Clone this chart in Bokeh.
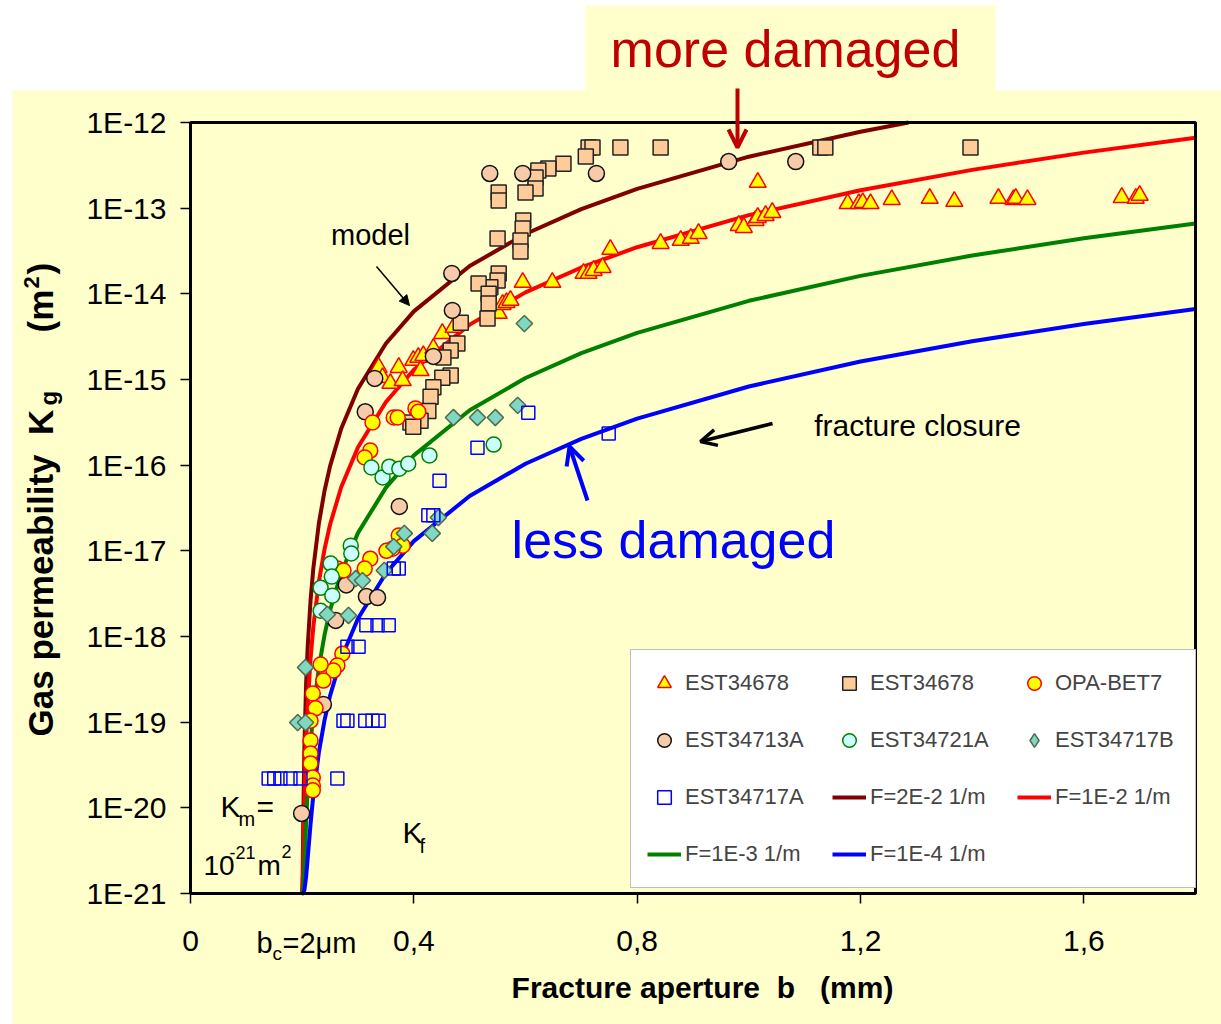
import math
from bokeh.plotting import figure
from bokeh.models import (Range1d, FixedTicker, CustomJSTickFormatter, Label, Arrow,
                          OpenHead, NormalHead, BoxAnnotation, Legend, LegendItem)
from bokeh.embed import file_html
from bokeh.resources import INLINE

# ---------------- data ----------------
x_ticks = [0, 0.4, 0.8, 1.2, 1.6]
y_ticks = [1e-21, 1e-20, 1e-19, 1e-18, 1e-17, 1e-16, 1e-15, 1e-14, 1e-13, 1e-12]

# model curves (aperture b in mm, permeability in m2)
b_model = [0.2, 0.201, 0.202, 0.204, 0.207, 0.21, 0.215, 0.22, 0.23, 0.24, 0.25, 0.27,
           0.3, 0.35, 0.4, 0.5, 0.6, 0.7, 0.8, 1.0, 1.2, 1.4, 1.6, 1.8]
b_f2e2 = [0.2, 0.201, 0.202, 0.204, 0.207, 0.21, 0.215, 0.22, 0.23, 0.24, 0.25, 0.27,
          0.3, 0.35, 0.4, 0.5, 0.6, 0.7, 0.8, 1.0, 1.2, 1.286]
k_f2e2 = [1.0e-21, 1.78e-21, 7.24e-21, 5.09e-20, 2.69e-19, 7.81e-19, 2.63e-18, 6.24e-18,
          2.11e-17, 4.99e-17, 9.75e-17, 2.68e-16, 7.8e-16, 2.63e-15, 6.24e-15, 2.11e-14,
          4.99e-14, 9.75e-14, 1.68e-13, 3.99e-13, 7.8e-13, 1.0e-12]
k_f1e2 = [1.0e-21, 1.16e-21, 2.3e-21, 1.14e-20, 5.66e-20, 1.63e-19, 5.48e-19, 1.3e-18,
          4.37e-18, 1.04e-17, 2.03e-17, 5.56e-17, 1.62e-16, 5.47e-16, 1.3e-15, 4.37e-15,
          1.04e-14, 2.03e-14, 3.5e-14, 8.29e-14, 1.62e-13, 2.8e-13, 4.45e-13, 6.64e-13]
k_f1e3 = [1.0e-21, 1.02e-21, 1.13e-21, 2.04e-21, 6.56e-21, 1.72e-20, 5.57e-20, 1.31e-19,
          4.38e-19, 1.04e-18, 2.03e-18, 5.56e-18, 1.62e-17, 5.47e-17, 1.3e-16, 4.37e-16,
          1.04e-15, 2.03e-15, 3.5e-15, 8.29e-15, 1.62e-14, 2.8e-14, 4.45e-14, 6.64e-14]
k_f1e4 = [1.0e-21, 1.0e-21, 1.01e-21, 1.1e-21, 1.56e-21, 2.62e-21, 6.47e-21, 1.4e-20,
          4.47e-20, 1.05e-19, 2.04e-19, 5.57e-19, 1.62e-18, 5.47e-18, 1.3e-17, 4.37e-17,
          1.04e-16, 2.03e-16, 3.5e-16, 8.29e-16, 1.62e-15, 2.8e-15, 4.45e-15, 6.64e-15]

# EST34678 (triangles)
tri_b = [0.337, 0.344, 0.358, 0.373, 0.380, 0.399, 0.408, 0.412, 0.417, 0.435, 0.451, 0.471,
         0.552, 0.559, 0.566, 0.573, 0.595, 0.648, 0.704, 0.713, 0.722, 0.738, 0.752, 0.842,
         0.878, 0.896, 0.910, 0.982, 0.991, 1.012, 1.016, 1.030, 1.042, 1.016, 1.177, 1.197,
         1.204, 1.218, 1.256, 1.324, 1.368, 1.447, 1.474, 1.478, 1.499, 1.668, 1.693, 1.700]
tri_k = [1.38e-15, 1.05e-15, 9.0e-16, 1.38e-15, 9.7e-16, 1.67e-15, 1.81e-15, 1.27e-15, 1.9e-15,
         2.3e-15, 3.44e-15, 4.05e-15, 5.9e-15, 7.5e-15, 7.9e-15, 8.4e-15, 1.36e-14, 1.36e-14,
         1.73e-14, 1.73e-14, 1.87e-14, 2.03e-14, 3.3e-14, 3.87e-14, 4.2e-14, 4.43e-14, 5.06e-14,
         6.28e-14, 5.94e-14, 7.18e-14, 7.78e-14, 8.2e-14, 8.9e-14, 2.0e-13, 1.13e-13, 1.13e-13,
         1.16e-13, 1.13e-13, 1.26e-13, 1.3e-13, 1.2e-13, 1.3e-13, 1.26e-13, 1.3e-13, 1.26e-13,
         1.33e-13, 1.3e-13, 1.41e-13]

# EST34678 (squares)
sq_b = [0.713, 0.720, 0.770, 0.842, 1.128, 1.137, 1.397, 0.708, 0.668, 0.641, 0.623, 0.618,
        0.618, 0.600, 0.552, 0.552, 0.596, 0.595, 0.591, 0.591, 0.550, 0.552, 0.550, 0.537,
        0.516, 0.534, 0.534, 0.532, 0.484, 0.478, 0.466, 0.453, 0.466, 0.451, 0.435, 0.430,
        0.426, 0.412, 0.394, 0.399]
sq_k = [5.1e-13, 5.1e-13, 5.1e-13, 5.1e-13, 5.1e-13, 5.1e-13, 5.1e-13, 4.0e-13, 3.3e-13, 2.9e-13,
        2.75e-13, 2.28e-13, 1.7e-13, 1.52e-13, 1.52e-13, 1.23e-13, 7.2e-14, 5.8e-14, 4.2e-14,
        3.12e-14, 4.43e-14, 1.73e-14, 1.43e-14, 1.19e-14, 1.32e-14, 1.0e-14, 7.7e-15, 5.15e-15,
        4.6e-15, 2.63e-15, 2.18e-15, 1.81e-15, 1.11e-15, 1.05e-15, 8.1e-16, 6.3e-16, 4.3e-16,
        3.3e-16, 3.15e-16, 2.8e-16]

# OPA-BET7
opa_b = [0.326, 0.364, 0.371, 0.403, 0.408, 0.322, 0.312, 0.373, 0.380, 0.362, 0.351, 0.322,
         0.312, 0.263, 0.274, 0.272, 0.263, 0.256, 0.233, 0.238, 0.219, 0.224, 0.215, 0.215,
         0.215, 0.215, 0.219, 0.219, 0.219]
opa_k = [3.15e-16, 3.6e-16, 3.6e-16, 4.6e-16, 4.2e-16, 1.48e-16, 1.23e-16, 1.51e-17, 1.15e-17,
         1.06e-17, 1.0e-17, 8.1e-18, 6.2e-18, 6.2e-18, 5.9e-18, 6.3e-19, 4.6e-19, 4.0e-19,
         4.7e-19, 3.06e-19, 2.16e-19, 1.45e-19, 1.04e-19, 6.1e-20, 4.3e-20, 3.3e-20, 2.26e-20,
         1.82e-20, 1.6e-20]

# EST34713A
a13_b = [0.536, 0.595, 0.727, 0.964, 1.084, 0.468, 0.469, 0.435, 0.330, 0.313, 0.374, 0.279,
         0.315, 0.335, 0.260, 0.238, 0.199]
a13_k = [2.54e-13, 2.54e-13, 2.54e-13, 3.5e-13, 3.5e-13, 1.73e-14, 6.4e-15, 1.86e-15, 1.03e-15,
         4.2e-16, 3.3e-17, 4.0e-18, 2.93e-18, 2.85e-18, 1.54e-18, 1.61e-19, 8.6e-21]

# EST34721A
a21_b = [0.324, 0.344, 0.356, 0.374, 0.390, 0.428, 0.543, 0.287, 0.288, 0.251, 0.253, 0.233,
         0.254, 0.233]
a21_k = [9.4e-17, 7.2e-17, 9.6e-17, 9.1e-17, 1.04e-16, 1.3e-16, 1.74e-16, 1.15e-17, 9.3e-18,
         7.1e-18, 5.0e-18, 3.7e-18, 3.0e-18, 2.0e-18]

# EST34717B
b17_b = [0.598, 0.586, 0.546, 0.514, 0.471, 0.444, 0.433, 0.383, 0.364, 0.347, 0.296, 0.308,
         0.245, 0.283, 0.206, 0.192, 0.206]
b17_k = [4.5e-15, 5.0e-16, 3.6e-16, 3.6e-16, 3.6e-16, 2.45e-17, 1.6e-17, 1.6e-17, 1.12e-17,
         5.9e-18, 4.75e-18, 4.5e-18, 1.81e-18, 1.76e-18, 4.35e-19, 9.9e-20, 9.9e-20]

# EST34717A
a17_b = [0.605, 0.749, 0.514, 0.446, 0.426, 0.435, 0.364, 0.373, 0.315, 0.335, 0.355, 0.281,
         0.301, 0.274, 0.281, 0.313, 0.326, 0.337, 0.140, 0.150, 0.161, 0.179, 0.197, 0.263]
a17_k = [4.1e-16, 2.34e-16, 1.6e-16, 6.6e-17, 2.6e-17, 2.6e-17, 6.2e-18, 6.2e-18, 1.35e-18,
         1.35e-18, 1.35e-18, 7.6e-19, 7.6e-19, 1.04e-19, 1.04e-19, 1.04e-19, 1.04e-19, 1.04e-19,
         2.2e-20, 2.2e-20, 2.2e-20, 2.2e-20, 2.2e-20, 2.2e-20]

# ---------------- layout ----------------
W, H = 1221, 1024
FL, FR, FT, FB = 190, 1195, 122, 893   # plot box edges on the page (px)
X0, X1 = 0.0, 1.8
Y0, Y1 = 1e-21, 1e-12
YEL = "#FFFFCC"
FONT = "Liberation Sans"

# the Bokeh frame fills the whole page; the plot box sits inside it
ppx = (FR - FL) / (X1 - X0)
dpp = (math.log10(Y1) - math.log10(Y0)) / (FB - FT)
x_range = Range1d(X0 - FL / ppx, X1 + (W - FR) / ppx)
y_range = Range1d(10 ** (math.log10(Y0) - (H - FB) * dpp), 10 ** (math.log10(Y1) + FT * dpp))

p = figure(width=W, height=H, output_backend="svg", toolbar_location=None,
           x_range=x_range, y_range=y_range, y_axis_type="log",
           min_border_left=0, min_border_right=0, min_border_top=0, min_border_bottom=0)
p.background_fill_color = "white"
p.border_fill_color = "white"
p.outline_line_color = None
p.xgrid.visible = False
p.ygrid.visible = False

p.xaxis.ticker = FixedTicker(ticks=x_ticks)
p.xaxis.formatter = CustomJSTickFormatter(
    code="if (Math.abs(tick) < 1e-9) {return '0';} return tick.toFixed(1).replace('.', ',');")
p.xaxis.fixed_location = Y0
p.xaxis.bounds = (X0, X1)
p.yaxis.ticker = FixedTicker(ticks=y_ticks)
p.yaxis.formatter = CustomJSTickFormatter(code="return '1E' + Math.round(Math.log10(tick));")
p.yaxis.fixed_location = X0
p.yaxis.bounds = (Y0, Y1)
for ax in (p.xaxis[0], p.yaxis[0]):
    ax.axis_line_color = None
    ax.major_tick_in = 0
    ax.major_tick_out = 10
    ax.major_tick_line_color = "black"
    ax.major_tick_line_width = 1.5
    ax.minor_tick_line_color = None
    ax.major_label_text_font = FONT
    ax.major_label_text_font_size = "30px"
    ax.major_label_text_color = "black"
    ax.major_label_standoff = 14
p.xaxis.major_label_standoff = 27

# yellow panels (page pixels -> screen units with y measured from the bottom)
for (x0, y0, x1, y1) in [(12, 90, W, H), (585, 5, 995, 90)]:
    p.add_layout(BoxAnnotation(left=x0, right=x1, top=H - y0, bottom=H - y1,
                               left_units="screen", right_units="screen",
                               top_units="screen", bottom_units="screen",
                               fill_color=YEL, fill_alpha=1.0, line_color=None,
                               level="underlay"))

# ---------------- glyphs ----------------
r_f2 = p.line(b_f2e2, k_f2e2, line_color="#800000", line_width=4)
r_f1 = p.line(b_model, k_f1e2, line_color="#FF0000", line_width=4)
r_f3 = p.line(b_model, k_f1e3, line_color="#008000", line_width=4)
r_f4 = p.line(b_model, k_f1e4, line_color="#0000FF", line_width=4)

r_tri = p.scatter(tri_b, tri_k, marker="triangle", size=17, fill_color="#FFFF00",
                  line_color="#FF0000", line_width=1.5)
r_sq = p.scatter(sq_b, sq_k, marker="square", size=15, fill_color="#FFCC99",
                 line_color="#222222", line_width=1.5)
r_a13 = p.scatter(a13_b, a13_k, marker="circle", size=16, fill_color="#F8CBA8",
                  line_color="#111111", line_width=1.5)
r_opa = p.scatter(opa_b, opa_k, marker="circle", size=15, fill_color="#FFFF00",
                  line_color="#FF0000", line_width=1.5)
r_a21 = p.scatter(a21_b, a21_k, marker="circle", size=15, fill_color="#CCFFFF",
                  line_color="#008000", line_width=1.5)
r_b17 = p.scatter(b17_b, b17_k, marker="square", angle=math.pi / 4, size=11.5,
                  fill_color="#80D8C4", line_color="#4D6B4D", line_width=1.5)
# legend swatch for the diamonds (a single undrawn NaN point)
r_b17_key = p.scatter([float("nan")], [float("nan")], marker="diamond", size=16,
                      fill_color="#80D8C4", line_color="#4D6B4D", line_width=1.5)
r_a17 = p.scatter(a17_b, a17_k, marker="square", size=13, fill_color=None,
                  line_color="#0000FF", line_width=1.5)

# plot box border
p.add_layout(BoxAnnotation(left=X0, right=X1, bottom=Y0, top=Y1, fill_color=None,
                           line_color="black", line_width=3, line_alpha=1.0))

# ---------------- legend ----------------
items = [LegendItem(label="EST34678", renderers=[r_tri]),
         LegendItem(label="EST34678", renderers=[r_sq]),
         LegendItem(label="OPA-BET7", renderers=[r_opa]),
         LegendItem(label="EST34713A", renderers=[r_a13]),
         LegendItem(label="EST34721A", renderers=[r_a21]),
         LegendItem(label="EST34717B", renderers=[r_b17_key]),
         LegendItem(label="EST34717A", renderers=[r_a17]),
         LegendItem(label="F=2E-2 1/m", renderers=[r_f2]),
         LegendItem(label="F=1E-2 1/m", renderers=[r_f1]),
         LegendItem(label="F=1E-3 1/m", renderers=[r_f3]),
         LegendItem(label="F=1E-4 1/m", renderers=[r_f4])]
legend = Legend(items=items, location=(630, H - 888), orientation="horizontal", ncols=3,
                glyph_width=34, glyph_height=34, label_standoff=4, spacing=23,
                padding=16, margin=0, label_width=124,
                label_text_font=FONT, label_text_font_size="22px",
                background_fill_color="white", background_fill_alpha=1.0,
                border_line_color="#808080", border_line_width=1.5)
p.add_layout(legend)


# ---------------- text ----------------
def lab(text, cx, cy, size, color="black", align="left", weight="normal", angle=0.0):
    p.add_layout(Label(x=cx, y=H - cy, x_units="screen", y_units="screen", text=text,
                       text_font=FONT, text_font_size=f"{size}px", text_color=color,
                       text_align=align, text_baseline="middle", text_font_style=weight,
                       angle=angle))


lab("more damaged", 785, 48, 52, color="#C00000", align="center")
lab("less damaged", 673, 539, 52, color="#0000FF", align="center")
lab("model", 370, 234, 29, align="center")
lab("fracture closure", 917, 425, 30, align="center")

lab("K", 220, 806, 30)
lab("m", 238, 818, 20)
lab("=", 256, 806, 30)
lab("10", 203, 865, 28)
lab("-21", 229, 852, 18)
lab("m", 257, 865, 28)
lab("2", 281, 851, 18)
lab("K", 402, 832, 30)
lab("f", 419, 845, 20)

lab("b", 256, 942, 29)
lab("c", 272, 953, 19)
lab("=2\u03bcm", 282, 942, 29)

lab("Fracture aperture\u00a0\u00a0b\u00a0\u00a0\u00a0(mm)", 702, 987, 30, align="center",
    weight="bold")
lab("Gas permeability\u00a0\u00a0K", 40, 736, 35, weight="bold", angle=math.pi / 2)
lab("g", 48, 405, 24, weight="bold", angle=math.pi / 2)
lab("(m", 40, 332, 35, weight="bold", angle=math.pi / 2)
lab("2", 31, 288, 22, weight="bold", angle=math.pi / 2)
lab(")", 40, 274, 35, weight="bold", angle=math.pi / 2)


# ---------------- arrows ----------------
def arrow(c0, c1, color, width, head):
    p.add_layout(Arrow(x_start=c0[0], y_start=H - c0[1], x_end=c1[0], y_end=H - c1[1],
                       start_units="screen", end_units="screen",
                       line_color=color, line_width=width, end=head))


arrow((737, 88), (737, 147), "#C00000", 4, OpenHead(size=18, line_color="#C00000", line_width=4))
arrow((376, 266), (409, 305), "black", 1.5, NormalHead(size=10, fill_color="black", line_color="black"))
arrow((587, 500), (569, 446), "#0000FF", 4, OpenHead(size=18, line_color="#0000FF", line_width=4))
arrow((772, 423), (700, 441), "black", 3.5, OpenHead(size=16, line_color="black", line_width=3.5))

open("out.html", "w").write(file_html(p, INLINE))
